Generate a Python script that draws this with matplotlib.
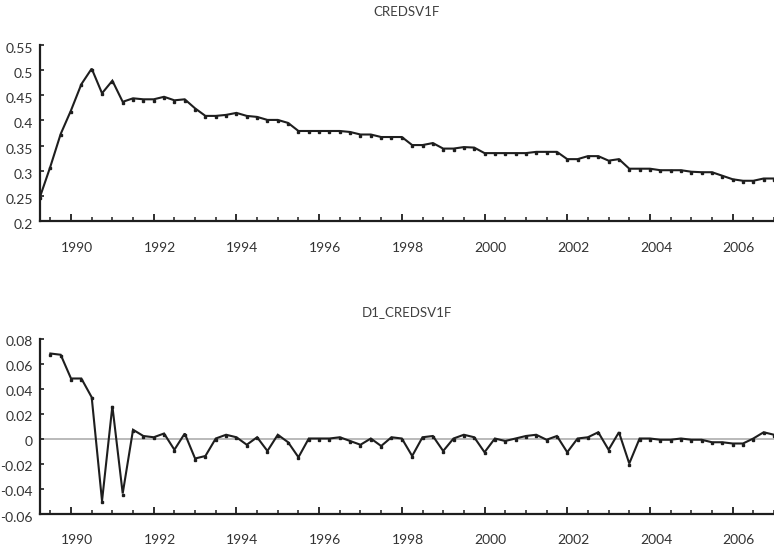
import numpy as np
import pandas as pd
import matplotlib
matplotlib.use("Agg")
import matplotlib.pyplot as plt
from matplotlib.transforms import ScaledTranslation

plt.rcParams['font.family'] = ['Lato', 'DejaVu Sans']

# quarterly series, level starts 1989Q2, first difference starts 1989Q3
level_start = "1989Q2"
diff_start = "1989Q3"

credsv1f = [
    0.248, 0.308, 0.373,
    0.420, 0.472, 0.503, 0.454,
    0.479, 0.437, 0.444, 0.442,
    0.442, 0.447, 0.440, 0.442,
    0.424, 0.409, 0.409, 0.411,
    0.415, 0.409, 0.407, 0.401,
    0.401, 0.395, 0.379, 0.379,
    0.379, 0.379, 0.379, 0.377,
    0.372, 0.372, 0.367, 0.367,
    0.367, 0.351, 0.351, 0.355,
    0.344, 0.344, 0.347, 0.346,
    0.335, 0.335, 0.335, 0.335,
    0.335, 0.3375, 0.3375, 0.3375,
    0.323, 0.323, 0.329, 0.329,
    0.320, 0.323, 0.304, 0.304,
    0.304, 0.301, 0.301, 0.301,
    0.298, 0.297, 0.297, 0.290,
    0.283, 0.280, 0.280, 0.2845,
    0.2845,
]

d1_credsv1f = [
    0.068, 0.067,
    0.048, 0.048, 0.033, -0.050,
    0.026, -0.044, 0.007, 0.002,
    0.001, 0.004, -0.009, 0.004,
    -0.016, -0.014, 0.000, 0.003,
    0.001, -0.005, 0.001, -0.010,
    0.003, -0.003, -0.015, 0.000,
    0.000, 0.000, 0.001, -0.002,
    -0.005, 0.000, -0.006, 0.001,
    0.000, -0.014, 0.001, 0.002,
    -0.010, 0.000, 0.003, 0.001,
    -0.011, 0.000, -0.002, 0.000,
    0.002, 0.003, -0.001, 0.002,
    -0.011, 0.000, 0.001, 0.005,
    -0.009, 0.005, -0.020, 0.000,
    0.000, -0.001, -0.001, 0.000,
    -0.001, -0.001, -0.003, -0.003,
    -0.004, -0.004, 0.000, 0.005,
    0.003,
]

year_ticks = list(range(1990, 2007, 2))


def quarter_axis(start, n):
    per = pd.period_range(start, periods=n, freq="Q")
    return per.year + (per.quarter - 1) / 4.0


line_col = "#1e1e1e"
text_col = "#333333"

fig = plt.figure(figsize=(7.74, 5.54), dpi=100)
ax1 = fig.add_axes([40 / 774, 1 - 221 / 554, 1 - 40 / 774, 176 / 554])
ax2 = fig.add_axes([40 / 774, 1 - 513.5 / 554, 1 - 40 / 774, 175 / 554])

panels = [
    (ax1, quarter_axis(level_start, len(credsv1f)), credsv1f, (0.2, 0.55),
     np.arange(0.2, 0.5501, 0.05), "CREDSV1F", 12),
    (ax2, quarter_axis(diff_start, len(d1_credsv1f)), d1_credsv1f, (-0.06, 0.08),
     np.arange(-0.06, 0.0801, 0.02), "D1_CREDSV1F", 312),
]

dot_shift = ScaledTranslation(0, -1.2 / 100, fig.dpi_scale_trans)
xlab_shift = ScaledTranslation(6 / 100, 0, fig.dpi_scale_trans)
ylab_shift = ScaledTranslation(0, -3 / 100, fig.dpi_scale_trans)

for ax, x, y, ylim, yticks, title, title_y in panels:
    if ylim[0] < 0:
        ax.axhline(0, color="#b4b4b4", lw=1.3, zorder=1)
    ax.plot(x, y, color=line_col, lw=1.5, solid_joinstyle="miter", zorder=3)
    ax.plot(x, y, ls="none", marker="s", ms=1.7, color=line_col,
            transform=ax.transData + dot_shift, zorder=4)

    ax.set_xlim(1989.25, 2007.0)
    ax.set_ylim(*ylim)
    ax.set_xticks(year_ticks)
    ax.set_xticks(np.arange(1989.5, 2007.01, 0.5), minor=True)
    ax.set_yticks(yticks)
    ax.set_yticklabels([f"{v:g}" if abs(v) > 1e-9 else "0" for v in yticks])

    for s in ["top", "right"]:
        ax.spines[s].set_visible(False)
    for s in ["left", "bottom"]:
        ax.spines[s].set_linewidth(1.6)
        ax.spines[s].set_color(line_col)

    ax.tick_params(axis="x", which="major", direction="in", length=5, width=1.3,
                   pad=15, labelsize=10, colors=line_col, labelcolor=text_col)
    ax.tick_params(axis="x", which="minor", direction="in", length=3, width=1.1,
                   colors=line_col)
    ax.tick_params(axis="y", direction="in", length=3, width=1.2, pad=5,
                   labelsize=10, colors=line_col, labelcolor=text_col)
    for lab in ax.get_xticklabels():
        lab.set_transform(lab.get_transform() + xlab_shift)
    for lab in ax.get_yticklabels():
        lab.set_transform(lab.get_transform() + ylab_shift)

    fig.text(407 / 774, 1 - title_y / 554, title, ha="center", va="center",
             fontsize=9.5, color="#404040")

fig.savefig("out.png", dpi=100)
